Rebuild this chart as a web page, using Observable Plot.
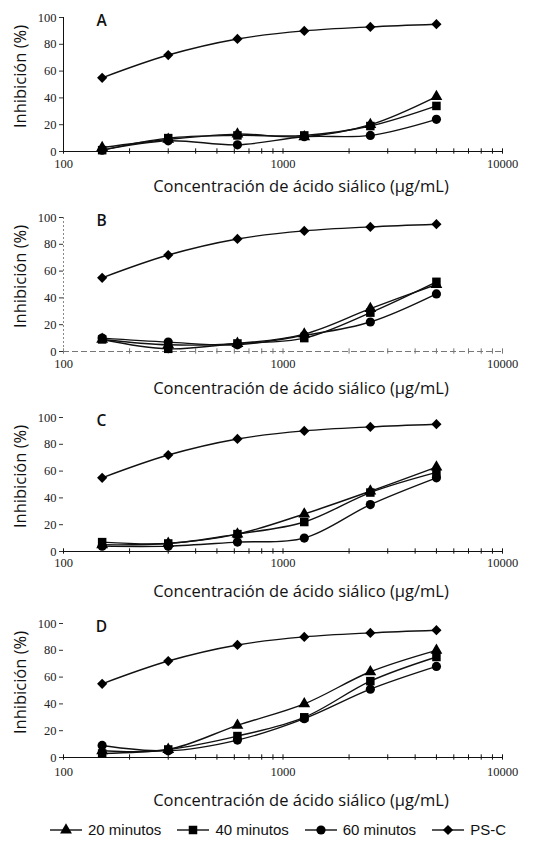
<!DOCTYPE html>
<html><head><meta charset="utf-8">
<script src="https://cdn.jsdelivr.net/npm/d3@7"></script>
<script src="https://cdn.jsdelivr.net/npm/@observablehq/plot@0.6"></script>
<style>
html,body{margin:0;padding:0;background:#fff;}
body{width:534px;height:846px;overflow:hidden;position:relative;}
.panel{position:absolute;left:0;}
#legend{position:absolute;left:50px;top:821px;display:flex;align-items:center;font-family:"Liberation Sans",Arial,sans-serif;font-size:15px;color:#111;}
#legend .item{display:flex;align-items:center;margin-right:16px;}
#legend svg{margin-right:6px;}
</style></head><body>
<div id="root"></div>
<script>
// ---- data ----
const concentrations = [150, 300, 620, 1250, 2500, 5000];
const seriesNames = ["20 minutos", "40 minutos", "60 minutos", "PS-C"];
const panelLetters = ["A", "B", "C", "D"];
const psc = [55, 72, 84, 90, 93, 95];
const a20 = [3, 9, 13, 11, 20, 41];
const a40 = [1, 10, 12, 12, 19, 34];
const a60 = [1, 8, 5, 11, 12, 24];
const b20 = [9, 5, 6, 13, 32, 50];
const b40 = [9, 2, 6, 10, 29, 52];
const b60 = [10, 7, 5, 12, 22, 43];
const c20 = [5, 6, 13, 28, 45, 63];
const c40 = [7, 6, 13, 22, 44, 59];
const c60 = [4, 4, 7, 10, 35, 55];
const d20 = [5, 6, 24, 40, 64, 80];
const d40 = [3, 6, 16, 30, 57, 75];
const d60 = [9, 5, 13, 29, 51, 68];
const xTickLabels = [100, 1000, 10000];
const minorTicks = [200,300,400,500,600,700,800,900,2000,3000,4000,5000,6000,7000,8000,9000];
const yTicks = [0, 20, 40, 60, 80, 100];
const xTitle = "Concentración de ácido siálico (µg/mL)";
const yTitle = "Inhibición (%)";

const panelSeries = [[a20,a40,a60,psc],[b20,b40,b60,psc],[c20,c40,c60,psc],[d20,d40,d60,psc]];
const symbols = ["triangle", "square", "circle", "diamond2"];
const radii = [4.4, 4.8, 4.6, 4.6];

const tops = [0, 200, 400, 606];
const titleDy = [35, 37, 40, 43];
const tickDy = [8, 8, 7, 10];
const yAxisStyle = ["solid", "dotted", "none", "none"];

const root = document.getElementById("root");
const serif = "Liberation Serif, Times New Roman, serif";
const sans = "Open Sans, sans-serif";

panelLetters.forEach((letter, p) => {
  const rows = [];
  panelSeries[p].forEach((vals, s) => {
    vals.forEach((v, i) => rows.push({series: seriesNames[s], conc: concentrations[i], inh: v}));
  });
  const marks = [];
  if (p === 1) {
    marks.push(Plot.ruleY([0], {stroke: "#777", strokeDasharray: "6,3", strokeWidth: 1}));
  } else {
    marks.push(Plot.ruleY([0], {stroke: "#111", strokeWidth: 1}));
  }
  marks.push(Plot.ruleX(minorTicks, {x: d => d, y1: -2, y2: 2, stroke: p === 1 ? "#777" : "#111", strokeWidth: 1}));
  marks.push(Plot.ruleX(xTickLabels, {x: d => d, y1: -2, y2: 2, stroke: p === 1 ? "#777" : "#111", strokeWidth: 1}));
  if (yAxisStyle[p] === "solid") {
    marks.push(Plot.ruleX([100], {y1: 0, y2: 100, stroke: "#111", strokeWidth: 1}));
  } else if (yAxisStyle[p] === "dotted") {
    marks.push(Plot.ruleX([100], {y1: 0, y2: 100, stroke: "#888", strokeWidth: 1, strokeDasharray: "2,2"}));
  }
  marks.push(Plot.axisX({ticks: xTickLabels, label: null, tickSize: 0, tickPadding: tickDy[p], tickFormat: d => String(d), fontFamily: serif, fontSize: 12.5, fill: "#222"}));
  marks.push(Plot.axisY({ticks: yTicks, label: null, tickSize: 4, tickPadding: 3, fontFamily: serif, fontSize: 12.5, fill: "#222", stroke: "#333"}));
  marks.push(Plot.line(rows, {x: "conc", y: "inh", z: "series", curve: "catmull-rom", stroke: "#111", strokeWidth: 1.4}));
  seriesNames.forEach((name, s) => {
    marks.push(Plot.dot(rows.filter(r => r.series === name), {x: "conc", y: "inh", symbol: () => symbols[s], r: radii[s], fill: "#000", stroke: "none"}));
  });
  marks.push(Plot.text([xTitle], {frameAnchor: "bottom", dy: titleDy[p], dx: 18, fontFamily: sans, fontSize: 16.5, fill: "#111", lineAnchor: "middle", style: "letter-spacing:0.5px"}));
  marks.push(Plot.text([yTitle], {frameAnchor: "left", rotate: -90, dx: -43, dy: -8, fontFamily: sans, fontSize: 16.5, fill: "#111", lineAnchor: "middle", textAnchor: "middle", style: "letter-spacing:2.2px"}));
  marks.push(Plot.text([letter], {frameAnchor: "top-left", dx: 38, dy: 4, textAnchor: "middle", lineAnchor: "middle", fontFamily: sans, fontSize: 15.5, fontWeight: 600, fill: "#111"}));

  const svg = Plot.plot({
    width: 534,
    height: 200,
    marginLeft: 63,
    marginRight: 32,
    marginTop: 17,
    marginBottom: 49,
    x: {type: "log", domain: [100, 10000], label: null},
    y: {domain: [0, 100], label: null},
    symbol: {type: "identity"},
    style: {background: "transparent", overflow: "visible"},
    marks
  });
  svg.classList.add("panel");
  svg.style.top = tops[p] + "px";
  root.appendChild(svg);
});

// legend
const legend = document.createElement("div");
legend.id = "legend";
seriesNames.forEach((name, s) => {
  const item = document.createElement("div");
  item.className = "item";
  const w = 32, h = 16;
  const sym = d3.symbol(d3[{triangle: "symbolTriangle", square: "symbolSquare", circle: "symbolCircle", diamond2: "symbolDiamond2"}[symbols[s]]], Math.PI * radii[s] * radii[s])();
  item.innerHTML = `<svg width="${w}" height="${h}"><line x1="0" x2="${w}" y1="${h/2}" y2="${h/2}" stroke="#111" stroke-width="1.4"/><path d="${sym}" transform="translate(${w/2},${h/2})" fill="#000"/></svg><span>${name}</span>`;
  legend.appendChild(item);
});
document.body.appendChild(legend);
</script>
</body></html>
